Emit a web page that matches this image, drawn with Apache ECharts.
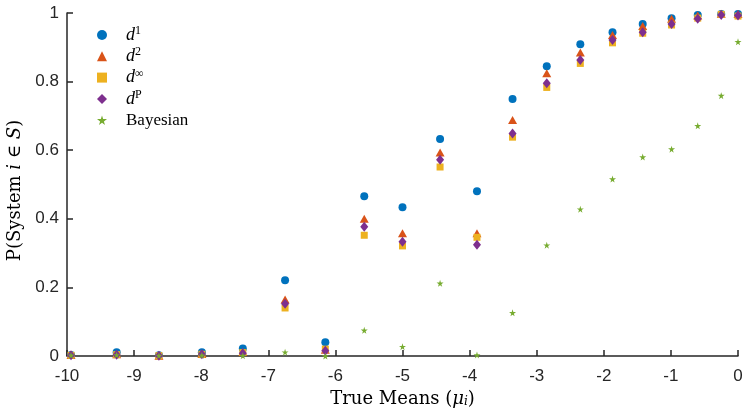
<!DOCTYPE html>
<html>
<head>
<meta charset="utf-8">
<script src="https://cdn.jsdelivr.net/npm/echarts@6/dist/echarts.min.js"></script>
<style>
html,body{margin:0;padding:0;background:#fff;}
#chart{width:743px;height:411px;}
</style>
</head>
<body>
<div id="chart"></div>
<script>
// True means (x positions)
var trueMeans = [-9.94, -9.26, -8.63, -7.99, -7.38, -6.75, -6.15, -5.57, -5.0, -4.44, -3.89, -3.36, -2.85, -2.35, -1.87, -1.42, -0.99, -0.60, -0.25, 0];
// P(System i in S) per procedure
var d1    = [0.003, 0.011, 0.002, 0.011, 0.022, 0.221, 0.040, 0.466, 0.434, 0.633, 0.480, 0.749, 0.845, 0.909, 0.944, 0.968, 0.985, 0.994, 0.997, 0.997];
var d2    = [0.003, 0.005, 0.001, 0.006, 0.012, 0.165, 0.018, 0.400, 0.358, 0.593, 0.358, 0.688, 0.824, 0.885, 0.936, 0.962, 0.983, 0.993, 0.998, 0.997];
var dInf  = [0.002, 0.004, 0.001, 0.005, 0.010, 0.140, 0.020, 0.352, 0.321, 0.551, 0.346, 0.638, 0.783, 0.853, 0.913, 0.941, 0.965, 0.985, 0.996, 0.991];
var dP    = [0.002, 0.004, 0.001, 0.005, 0.008, 0.152, 0.015, 0.377, 0.333, 0.572, 0.324, 0.649, 0.795, 0.863, 0.921, 0.944, 0.968, 0.983, 0.994, 0.993];
var bayes = [0.002, 0.003, 0.001, 0.002, 0.001, 0.011, 0.000, 0.075, 0.027, 0.212, 0.003, 0.126, 0.323, 0.428, 0.516, 0.580, 0.603, 0.671, 0.759, 0.916];
// Tick labels
var xTicks = [-10, -9, -8, -7, -6, -5, -4, -3, -2, -1, 0];
var yTicks = [0, 0.2, 0.4, 0.6, 0.8, 1];

function pairs(ys){ return trueMeans.map(function(x,i){ return [x, ys[i]]; }); }

var STAR = 'path://M50,0 L61,35 L98,35 L68,57 L79,91 L50,70 L21,91 L32,57 L2,35 L39,35 Z';
var serif = '"Liberation Serif", "DejaVu Serif", serif';
var wideSerif = '"DejaVu Serif", "Liberation Serif", serif';
var sans = '"Liberation Sans", Arial, sans-serif';
var axisColor = '#262626';

var legendRich = {
  sp: {width: 14},
  d: {fontFamily: serif, fontStyle: 'italic', fontSize: 18, lineHeight: 20, color: '#000', verticalAlign: 'middle'},
  s: {fontFamily: serif, fontSize: 12, lineHeight: 12, color: '#000', verticalAlign: 'top'},
  b: {fontFamily: serif, fontSize: 17, lineHeight: 20, color: '#000', verticalAlign: 'middle'}
};
var legendLabels = {
  'd1': '{sp|}{d|d}{s|1}',
  'd2': '{sp|}{d|d}{s|2}',
  'dinf': '{sp|}{d|d}{s|∞}',
  'dP': '{sp|}{d|d}{s|P}',
  'Bayesian': '{sp|}{b|Bayesian}'
};

var chart = echarts.init(document.getElementById('chart'), null, {renderer: 'canvas'});
chart.setOption({
  animation: false,
  backgroundColor: '#fff',
  grid: {left: 67, right: 5, top: 13, bottom: 55, containLabel: false, outerBoundsMode: 'none'},
  legend: {
    orient: 'vertical',
    left: 92, top: 20,
    itemWidth: 10, itemHeight: 10, itemGap: 1.3,
    data: ['d1','d2','dinf','dP','Bayesian'],
    formatter: function(n){ return legendLabels[n]; },
    textStyle: {rich: legendRich, lineHeight: 20}
  },
  xAxis: {
    type: 'value', min: -10, max: 0, interval: 1,
    name: '{n|True Means (}{i|μ}{sub|i}{n|)}',
    nameLocation: 'middle', nameGap: 34,
    nameTextStyle: {rich: {
      n: {fontFamily: wideSerif, fontSize: 18, color: '#000'},
      i: {fontFamily: wideSerif, fontStyle: 'italic', fontSize: 18, color: '#000'},
      sub: {fontFamily: wideSerif, fontStyle: 'italic', fontSize: 12, color: '#000', verticalAlign: 'bottom', lineHeight: 14, padding: [6,0,0,0]}
    }},
    axisLine: {show: true, onZero: false, lineStyle: {color: axisColor, width: 1.5}},
    axisTick: {show: true, inside: true, length: 6, lineStyle: {color: axisColor, width: 1.5}},
    axisLabel: {fontFamily: sans, fontSize: 17, color: axisColor, margin: 12},
    splitLine: {show: false}
  },
  yAxis: {
    type: 'value', min: 0, max: 1, interval: 0.2,
    name: '{n|P(System }{i|i}{n| ∈ }{i|S}{n|)}',
    nameLocation: 'middle', nameGap: 37, nameRotate: 90,
    nameTextStyle: {padding: [0, 12, 0, 0], rich: {
      n: {fontFamily: wideSerif, fontSize: 18, color: '#000'},
      i: {fontFamily: wideSerif, fontStyle: 'italic', fontSize: 18, color: '#000'}
    }},
    axisLine: {show: true, onZero: false, lineStyle: {color: axisColor, width: 1.5}},
    axisTick: {show: true, inside: true, length: 6, lineStyle: {color: axisColor, width: 1.5}},
    axisLabel: {fontFamily: sans, fontSize: 17, color: axisColor, margin: 8},
    splitLine: {show: false}
  },
  series: [
    {name: 'd1', type: 'scatter', data: pairs(d1), symbol: 'circle', symbolSize: 8, itemStyle: {color: '#0072BD', opacity: 1}},
    {name: 'd2', type: 'scatter', data: pairs(d2), symbol: 'triangle', symbolSize: [9,8], itemStyle: {color: '#D95319', opacity: 1}},
    {name: 'dinf', type: 'scatter', data: pairs(dInf), symbol: 'rect', symbolSize: 7, itemStyle: {color: '#EDB120', opacity: 1}},
    {name: 'dP', type: 'scatter', data: pairs(dP), symbol: 'diamond', symbolSize: [8,10], itemStyle: {color: '#7E2F8E', opacity: 1}},
    {name: 'Bayesian', type: 'scatter', data: pairs(bayes), symbol: STAR, symbolSize: 7, itemStyle: {color: '#77AC30', opacity: 1}}
  ]
});
</script>
</body>
</html>
